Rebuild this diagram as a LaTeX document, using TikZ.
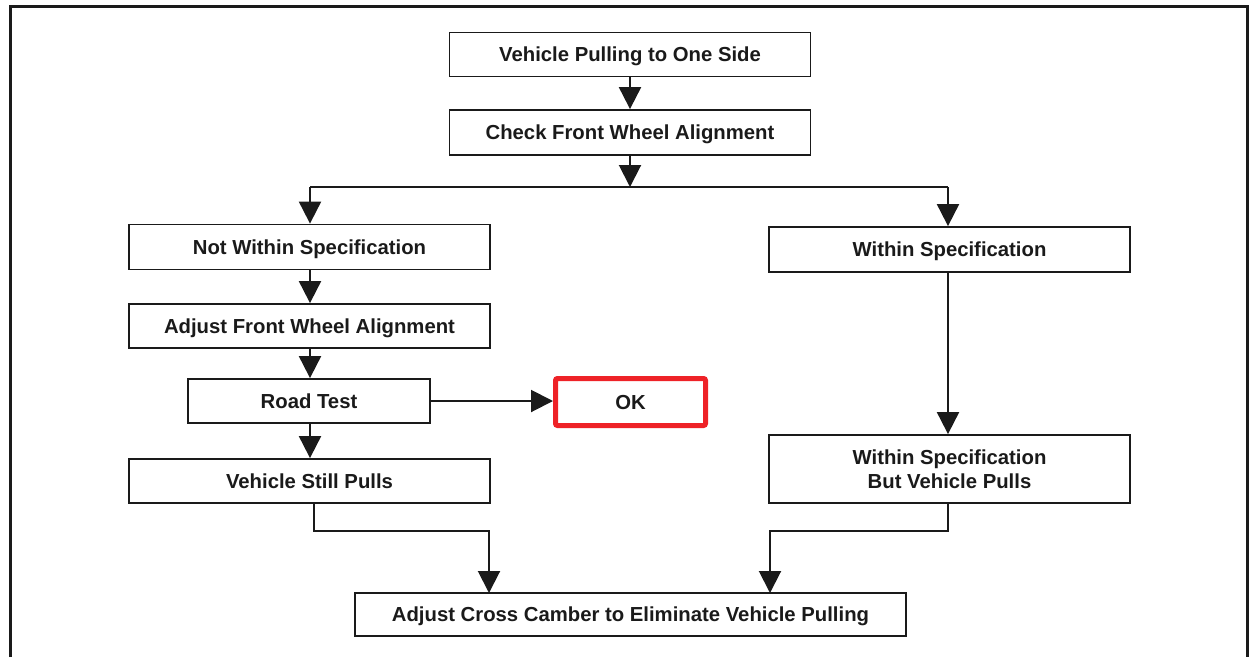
\documentclass[tikz,border=0pt]{standalone}
\usepackage{fontspec}
\setmainfont{Liberation Sans}
\usetikzlibrary{arrows.meta}
\definecolor{okred}{HTML}{EE2227}
\definecolor{ink}{HTML}{1A1A1A}
\begin{document}
\begin{tikzpicture}[x=1pt,y=-1pt,
  box/.style={draw=ink, line width=1.8pt, inner sep=0pt, minimum width=361pt, minimum height=44pt,
    font=\bfseries\fontsize{20.3}{24.5}\selectfont, text=ink, align=center,
    text height=14.6pt, text depth=0pt},
  arr/.style={draw=ink, line width=2pt, -{Triangle[length=22pt,width=22pt]}},
  ln/.style={draw=ink, line width=2pt}]
\useasboundingbox (0,0) rectangle (1251,657);
\draw[ink, line width=3pt] (10,657) -- (10,6) -- (1247,6) -- (1247,657);

\node[box] (n1) at (630,54.5) {Vehicle Pulling to One Side};
\node[box, minimum height=45pt] (n2) at (630,132.5) {Check Front Wheel Alignment};
\node[box, minimum height=45pt] (n3) at (309.5,247) {Not Within Specification};
\node[box, minimum height=45pt] (n4) at (949.5,249.5) {Within Specification};
\node[box] (n5) at (309.5,326) {Adjust Front Wheel Alignment};
\node[box, minimum width=242pt] (n6) at (309,401) {Road Test};
\node[box, draw=okred, line width=5pt, rounded corners=2pt, minimum width=150pt, minimum height=47pt] (ok) at (630.5,402) {OK};
\node[box, minimum height=68pt, text height=39.1pt] (n8) at (949.5,469) {Within Specification\\ But Vehicle Pulls};
\node[box] (n7) at (309.5,481) {Vehicle Still Pulls};
\node[box, minimum width=551pt, minimum height=43pt] (n9) at (630.5,614.5) {Adjust Cross Camber to Eliminate Vehicle Pulling};

\coordinate (split) at (630,187);
\coordinate (sl) at (310,187);
\coordinate (sr) at (948,187);
\coordinate (jl) at (314,531);
\coordinate (jr) at (948,531);

\draw[arr] (n1.south) -- (n2.north);
\draw[arr] (n2.south) -- (split);
\draw[ln] (sl) -- (sr);
\draw[arr] (sl) -- (sl |- n3.north);
\draw[arr] (sr) -- (sr |- n4.north);
\draw[arr] (n3.south -| sl) -- (n5.north -| sl);
\draw[arr] (n5.south -| sl) -- (n6.north -| sl);
\draw[arr] (n6.east) -- (n6.east -| ok.west);
\draw[arr] (n6.south -| sl) -- (n7.north -| sl);
\draw[arr] (n4.south -| sr) -- (n8.north -| sr);
\draw[arr] (n7.south -| jl) -- (jl) -- (489,531) -- (489,593);
\draw[arr] (n8.south -| jr) -- (jr) -- (770,531) -- (770,593);
\end{tikzpicture}
\end{document}
